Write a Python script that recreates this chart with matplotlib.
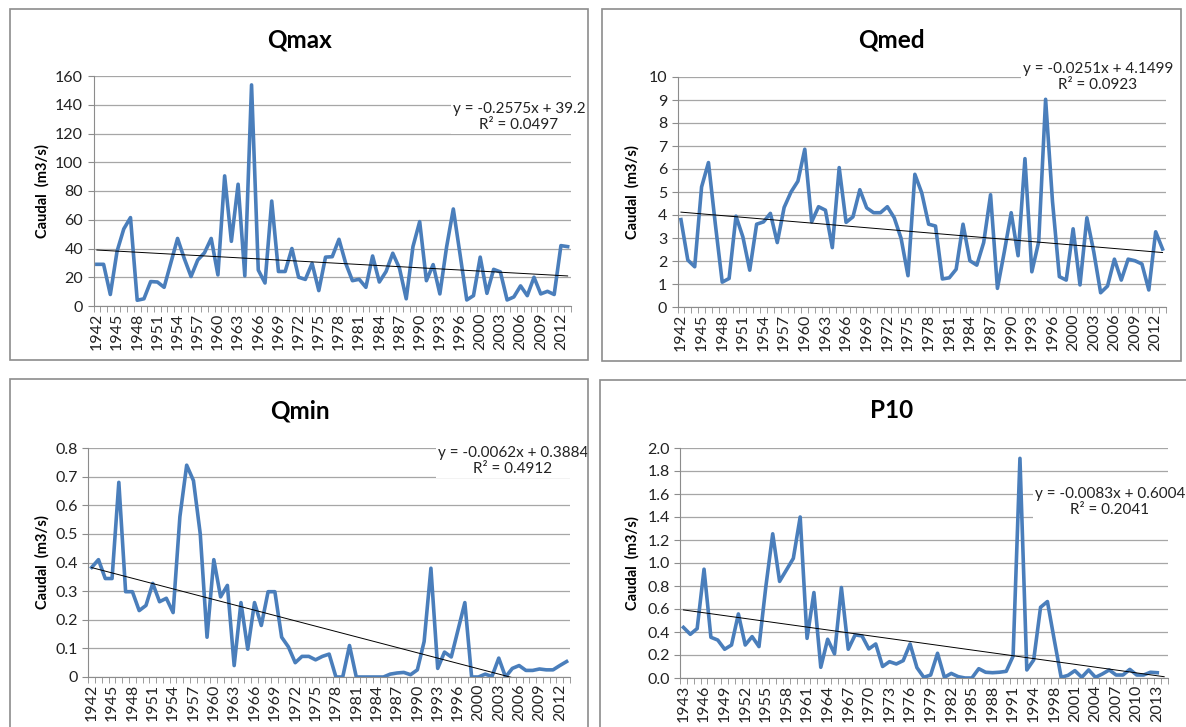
import numpy as np
import matplotlib.pyplot as plt
from matplotlib.patches import Rectangle

plt.rcParams['font.family'] = ['Lato', 'DejaVu Sans']

# years (1997 missing in the record)
years_a = list(range(1942, 1997)) + list(range(1998, 2014))
years_p10 = list(range(1943, 1997)) + list(range(1998, 2014))

qmax = [29, 29, 8, 38, 53.6, 61.5, 4, 5, 17, 16.7, 13, 30, 47, 33, 20.5, 32, 37, 47,
        21.6, 90.5, 45, 84.7, 21, 153.8, 25, 16, 73, 24, 24, 40, 20, 18.5, 29.7, 10.7,
        34, 34.3, 46.4, 29.7, 17.6, 18.6, 13, 34.8, 16.7, 24, 36.7, 26.2, 5, 41.3, 58.7,
        17.6, 28.8, 8.4, 41, 67.5, 36, 4.2, 7.2, 34, 8.8, 25.5, 23.7, 4.2, 6.3, 14, 7.2,
        20, 8.4, 10.2, 8, 42, 41.3]
qmed = [3.8, 2.04, 1.75, 5.22, 6.28, 3.6, 1.08, 1.24, 3.95, 3.05, 1.6, 3.6, 3.7, 4.07,
        2.8, 4.33, 5.0, 5.47, 6.86, 3.7, 4.36, 4.21, 2.58, 6.06, 3.68, 3.92, 5.1, 4.31,
        4.1, 4.1, 4.36, 3.88, 2.98, 1.36, 5.77, 4.96, 3.6, 3.52, 1.22, 1.27, 1.64, 3.6,
        2.01, 1.82, 2.8, 4.88, 0.81, 2.4, 4.1, 2.23, 6.45, 1.53, 2.84, 9.03, 4.6, 1.32,
        1.17, 3.4, 0.96, 3.88, 2.4, 0.62, 0.91, 2.08, 1.17, 2.08, 2.01, 1.87, 0.74, 3.27,
        2.52]
qmin = [0.383, 0.41, 0.344, 0.344, 0.68, 0.298, 0.298, 0.232, 0.25, 0.327, 0.263, 0.275,
        0.225, 0.56, 0.74, 0.686, 0.5, 0.139, 0.41, 0.28, 0.32, 0.04, 0.26, 0.097, 0.26,
        0.18, 0.298, 0.298, 0.139, 0.105, 0.05, 0.072, 0.072, 0.06, 0.072, 0.08, 0.0, 0.0,
        0.11, 0.0, 0.0, 0.0, 0.0, 0.0, 0.01, 0.014, 0.016, 0.008, 0.025, 0.124, 0.38, 0.03,
        0.087, 0.07, 0.165, 0.26, 0.0, 0.0, 0.01, 0.002, 0.066, 0.0, 0.03, 0.04, 0.023,
        0.023, 0.028, 0.025, 0.025, 0.04, 0.054]
p10 = [0.44, 0.38, 0.43, 0.946, 0.354, 0.33, 0.25, 0.287, 0.557, 0.287, 0.36, 0.273,
       0.795, 1.254, 0.84, 0.94, 1.04, 1.40, 0.345, 0.743, 0.093, 0.337, 0.21, 0.787,
       0.25, 0.375, 0.366, 0.253, 0.296, 0.1, 0.142, 0.122, 0.151, 0.296, 0.09, 0.006,
       0.026, 0.215, 0.006, 0.04, 0.012, 0.0, 0.0, 0.081, 0.05, 0.046, 0.05, 0.058, 0.19,
       1.91, 0.07, 0.157, 0.615, 0.665, 0.33, 0.006, 0.023, 0.064, 0.006, 0.07, 0.006,
       0.035, 0.07, 0.026, 0.026, 0.075, 0.026, 0.026, 0.05, 0.046]

titles = ['Qmax', 'Qmed', 'Qmin', 'P10']
slopes = [-0.2575, -0.0251, -0.0062, -0.0083]
intercepts = [39.2, 4.1499, 0.3884, 0.6004]
r2 = ['0.0497', '0.0923', '0.4912', '0.2041']
eqs = ['y = -0.2575x + 39.2', 'y = -0.0251x + 4.1499',
       'y = -0.0062x + 0.3884', 'y = -0.0083x + 0.6004']

W, H = 1186, 727
fig = plt.figure(figsize=(W / 100, H / 100), dpi=100)


def fx(px):
    return px / W


def fy(py):
    return 1 - py / H


# layout in pixels
frames = [(10, 9, 588, 360), (602, 9, 1181, 361), (10, 379, 588, 740), (600, 380, 1195, 740)]
axes_px = [(93.5, 76, 571, 306), (677.5, 77, 1166, 307), (88.3, 448, 570, 677), (680, 448, 1167.6, 678)]
title_xy = [(299, 40), (891, 40), (300, 411), (892, 411)]
ylab_x = [42, 632, 42, 632]
eq_xy = [(519, 117), (1098, 77), (513, 461), (1110, 502)]

series = [(years_a, qmax), (years_a, qmed), (years_a, qmin), (years_p10, p10)]
yticks = [np.arange(0, 161, 20), np.arange(0, 11, 1), np.arange(0, 0.81, 0.1), np.arange(0, 2.01, 0.2)]
ncat = [71, 71, 71, 71]

for k in range(4):
    x0, y0, x1, y1 = frames[k]
    fig.patches.append(Rectangle((fx(x0), fy(y1)), fx(x1 - x0), (y1 - y0) / H,
                                 transform=fig.transFigure, fill=False,
                                 edgecolor='#8c8c8c', lw=1.2, zorder=10))
    l, t, r, b = axes_px[k]
    ax = fig.add_axes([fx(l), fy(b), fx(r - l), (b - t) / H])
    yrs, vals = series[k]
    xs = np.arange(len(vals))
    ax.plot(xs, vals, color='#4a7ebb', lw=2.6, zorder=3, solid_joinstyle='round')

    xt = np.arange(ncat[k])
    ax.plot(xt, slopes[k] * (xt + 1) + intercepts[k], color='black', lw=0.7, zorder=4)

    ax.set_xlim(-0.5, ncat[k] - 0.5)
    ax.set_ylim(yticks[k][0], yticks[k][-1])
    ax.set_yticks(yticks[k])
    if k == 0 or k == 1:
        ax.set_yticklabels(['%d' % v for v in yticks[k]])
    elif k == 2:
        ax.set_yticklabels(['0'] + ['%.1f' % v for v in yticks[k][1:]])
    else:
        ax.set_yticklabels(['%.1f' % v for v in yticks[k]])
    ax.yaxis.grid(True, color='#a6a6a6', lw=0.9)
    ax.set_axisbelow(True)

    ax.set_xticks(xs[::3])
    ax.set_xticklabels([str(y) for y in yrs[::3]], rotation=90)
    ax.set_xticks(np.arange(-0.5, ncat[k], 1), minor=True)
    ax.tick_params(axis='x', which='major', length=0, pad=5, labelsize=11.5, colors='#222222')
    ax.tick_params(axis='x', which='minor', length=4, color='#8c8c8c')
    ax.tick_params(axis='y', length=4, color='#8c8c8c', labelsize=11.5, labelcolor='#222222')
    for s in ['top', 'right']:
        ax.spines[s].set_visible(False)
    for s in ['left', 'bottom']:
        ax.spines[s].set_color('#8c8c8c')

    fig.text(fx(title_xy[k][0]), fy(title_xy[k][1]), titles[k], ha='center', va='center',
             fontsize=17.5, fontweight='bold')
    fig.text(fx(ylab_x[k]), fy((t + b) / 2), 'Caudal  (m3/s)', rotation=90, ha='center',
             va='center', fontsize=10.5, fontweight='bold')
    fig.text(fx(eq_xy[k][0]), fy(eq_xy[k][1]), eqs[k] + '\nR² = ' + r2[k], ha='center',
             va='center', multialignment='center', fontsize=11, color='#222222',
             linespacing=1.1,
             bbox=dict(facecolor='white', edgecolor='none', pad=1.5))

fig.savefig('out.png', dpi=100)
